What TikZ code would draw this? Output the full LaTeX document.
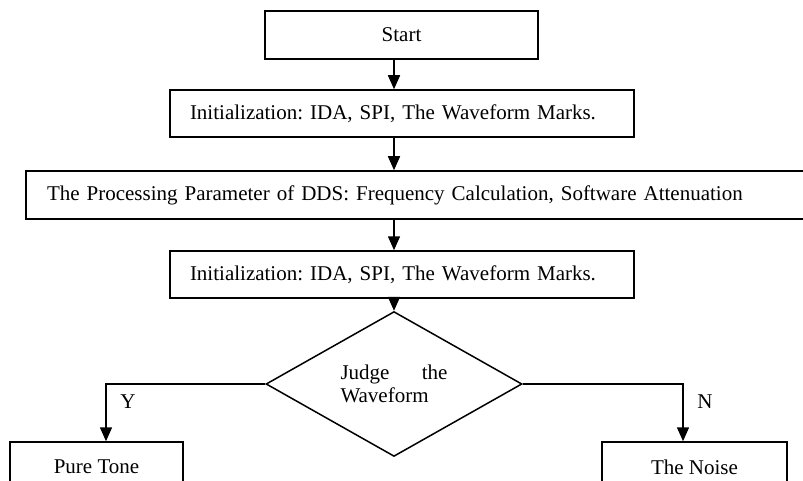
\documentclass[tikz,border=0pt]{standalone}
\usepackage{fontspec}
\setmainfont{Liberation Serif}
\usepackage{tikz}
\usetikzlibrary{positioning,shapes.geometric,arrows.meta}
\frenchspacing

\begin{document}
\begin{tikzpicture}[x=1pt, y=-1pt, line width=1.5pt, every node/.style={font=\fontsize{21}{23}\selectfont}, box/.style={rectangle, draw, minimum height=47pt}, wide/.style={box, inner xsep=20pt, align=left}, arr/.style={-{Triangle[length=14pt,width=12pt]}}]
  \useasboundingbox (0,0) rectangle (803,481);
  \node[box, minimum width=273pt, minimum height=48pt] (start) at (401.5,35) {Start};
  \node[wide, text width=424pt] (initA) at (402,113.5) {Initialization: IDA, SPI, The Waveform Marks.};
  \node[wide, inner xsep=21pt, text width=762pt, minimum height=48pt] (dds) at (428,195) {The Processing Parameter of DDS: Frequency Calculation, Software Attenuation};
  \node[wide, text width=424pt] (initB) at (402,274.5) {Initialization: IDA, SPI, The Waveform Marks.};
  \node[diamond, draw, minimum width=256pt, minimum height=104pt, inner sep=0pt, text width=107pt, align=justify] (judge) at (394,384) {Judge the Waveform};
  \node[box, minimum width=173pt, minimum height=50pt] (pure) at (96.5,467) {Pure Tone};
  \node[box, minimum width=185pt, minimum height=50pt] (noise) at (694.5,467) {The Noise};
  \node (yes) at (128,402) {Y};
  \node (no) at (705,402) {N};

  \draw[arr] (start.south -| judge.north) -- (initA.north -| judge.north);
  \draw[arr] (initA.south -| judge.north) -- (dds.north -| judge.north);
  \draw[arr] (dds.south -| judge.north) -- (initB.north -| judge.north);
  \draw[arr] (initB.south -| judge.north) -- (judge.north);
  \draw[arr] (judge.west) -| ([xshift=9.5pt]pure.north);
  \draw[arr] (judge.east) -| ([xshift=-11.5pt]noise.north);
\end{tikzpicture}
\end{document}
